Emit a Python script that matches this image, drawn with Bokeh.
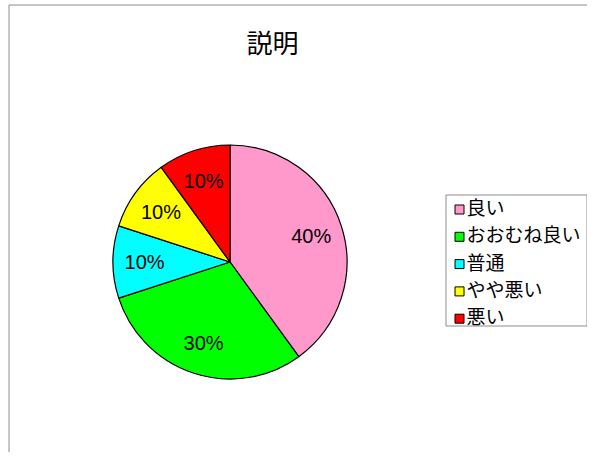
import numpy as np
from bokeh.plotting import figure
from bokeh.models import Range1d, ColumnDataSource
from bokeh.core.properties import value
from bokeh.embed import file_html
from bokeh.resources import INLINE

# ---- data ----
title_text = "説明"
categories = ["良い", "おおむね良い", "普通", "やや悪い", "悪い"]
shares = [40, 30, 10, 10, 10]
colors = ["#FF99CC", "#00FF00", "#00FFFF", "#FFFF00", "#FF0000"]

W, H = 587, 452
p = figure(width=W, height=H, output_backend="svg", toolbar_location=None,
           x_range=Range1d(0, W), y_range=Range1d(0, H), min_border=0)
p.axis.visible = False
p.grid.visible = False
p.outline_line_color = None
p.background_fill_color = "white"

# chart frame (left & top edges visible)
p.line(x=[8.5, 8.5, W], y=[0, 447.5, 447.5], line_color="#8c8c8c", line_width=1)

# ---- pie ----
cx, cy, r = 229.5, 190.5, 117
vals = np.array(shares, dtype=float)
frac = vals / vals.sum()
cum = np.concatenate([[0], np.cumsum(frac)])
start = np.pi / 2 - 2 * np.pi * cum[:-1]
end = np.pi / 2 - 2 * np.pi * cum[1:]
mid = (start + end) / 2
src = ColumnDataSource(dict(start=start, end=end, color=colors))
p.wedge(x=cx, y=cy, radius=r, start_angle="start", end_angle="end",
        direction="clock", fill_color="color", line_color="black", line_width=1.2,
        source=src)

lr = 0.73 * r
labels = [f"{v}%" for v in shares]
p.text(x=cx + lr * np.cos(mid), y=cy + lr * np.sin(mid), text=labels,
       text_font=value("Liberation Sans"), text_font_size="20px",
       text_align="center", text_baseline="middle", text_color="black")

# ---- title ----
p.text(x=[272], y=[411], text=[title_text], text_font=value("Noto Sans CJK JP"),
       text_font_size="26px", text_align="center", text_baseline="middle",
       text_color="black")

# ---- legend ----
n = len(categories)
lx0, lx1, ly_top, ly_bot = 445.5, 586.5, 257.5, 126.5
p.line(x=[lx0, lx1, lx1, lx0, lx0], y=[ly_top, ly_top, ly_bot, ly_bot, ly_top],
       line_color="#8c8c8c", line_width=1)
row_y = 452 - (209 + 27.3 * np.arange(n))
p.rect(x=[459] * n, y=row_y, width=9, height=9, fill_color=colors,
       line_color="black", line_width=1)
p.text(x=[466] * n, y=row_y + 3, text=categories, text_font=value("Noto Sans CJK JP"),
       text_font_size="19px", text_align="left", text_baseline="middle",
       text_color="black")

open("out.html", "w").write(file_html(p, INLINE))
